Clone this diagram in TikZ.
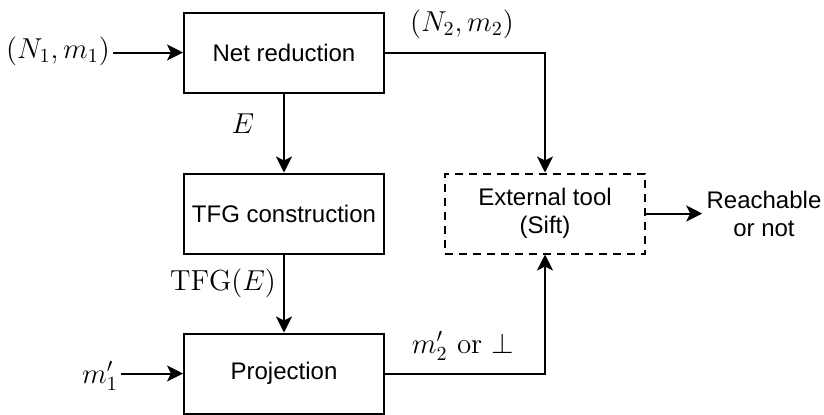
\documentclass[tikz,border=0pt]{standalone}
\usepackage{fontspec}
\usepackage{tikz}
\usetikzlibrary{arrows.meta}
\newfontfamily\boxfont{Liberation Sans}
\tikzset{
  stagebox/.style={draw,line width=1pt,minimum width=100pt,minimum height=40pt,inner sep=0pt,font=\boxfont\fontsize{12}{14}\selectfont},
  toolbox/.style={stagebox,dashed,dash pattern=on 4pt off 3pt},
  flowarrow/.style={line width=1pt,-{Stealth[length=8pt,width=8pt,inset=2pt]}},
  mathlabel/.style={font=\fontsize{14.5}{17}\selectfont,inner sep=0pt},
}

\begin{document}
\begin{tikzpicture}[x=0.5pt,y=-0.5pt]
\path[use as bounding box] (0,0) rectangle (824,414);
% boxes
\node[stagebox] (netred) at (284,52.5) {Net reduction};
\node[stagebox] (tfg) at (284,213.5) {TFG construction};
\node[stagebox] (proj) at (284,373.5) {Projection};
\node[toolbox,align=center] (ext) at (545,213.5) {External tool\\(Sift)};
% inputs and output
\node[mathlabel] (inone) at (58,51) {$(N_1,m_1)$};
\node[mathlabel] (mone) at (100,376) {$m'_1$};
\node[font=\boxfont\fontsize{12}{14}\selectfont,align=center,inner sep=0pt] (reach) at (764,213.5) {Reachable\\or not};
% edge labels
\node[mathlabel] (lbltwo) at (462,24) {$(N_2,m_2)$};
\node[mathlabel] (lble) at (243,124) {$E$};
\node[mathlabel] (lbltfg) at (223,283) {$\mathrm{TFG}(E)$};
\node[mathlabel] (lblm) at (463,346) {$m'_2$ or $\bot$};
% connectors
\draw[flowarrow] (inone.east |- netred.west) ++(3,0) -- (netred.west);
\draw[flowarrow] (netred) -- (tfg);
\draw[flowarrow] (tfg) -- (proj);
\draw[flowarrow] (mone.east |- proj.west) ++(3,0) -- (proj.west);
\draw[flowarrow] (netred.east) -| (ext.north);
\draw[flowarrow] (proj.east) -| (ext.south);
\draw[flowarrow,shorten >=2pt] (ext.east) -- (ext.east -| reach.west);
\end{tikzpicture}
\end{document}
